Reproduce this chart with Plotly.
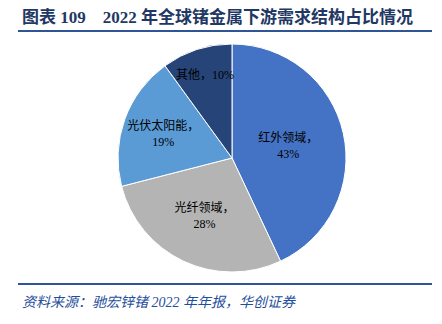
import plotly.graph_objects as go

W, H = 442, 324

categories = ["红外领域", "光纤领域", "光伏太阳能", "其他"]
values = [43, 28, 19, 10]
colors = ["#4472C4", "#B4B4B4", "#5B9BD5", "#264478"]
title_text = "图表 109 &nbsp;&nbsp;&nbsp;2022 年全球锗金属下游需求结构占比情况"
source_text = "资料来源：驰宏锌锗 2022 年年报，华创证券"

texts = []
for c, v in zip(categories, values):
    if c == "其他":
        texts.append(f"{c}，{v}%")
    else:
        texts.append(f"{c}，<br>{v}%")

cx, cy, r = 232, 158, 114

fig = go.Figure(go.Pie(
    labels=categories,
    values=values,
    text=texts,
    textinfo="text",
    textposition="inside",
    insidetextorientation="horizontal",
    sort=False,
    direction="clockwise",
    rotation=0,
    marker=dict(colors=colors, line=dict(color="white", width=1)),
    textfont=dict(family="Liberation Serif, Noto Sans CJK SC", size=12, color="black"),
    hoverinfo="label+percent",
    showlegend=False,
    domain=dict(x=[(cx - r) / W, (cx + r) / W], y=[1 - (cy + r) / H, 1 - (cy - r) / H]),
))

fig.update_layout(
    width=W, height=H,
    margin=dict(l=0, r=0, t=0, b=0),
    paper_bgcolor="white",
    plot_bgcolor="white",
    uniformtext=dict(minsize=12, mode="show"),
    annotations=[
        dict(text=title_text, x=20 / W, y=1 - 17 / H, xref="paper", yref="paper",
             xanchor="left", yanchor="middle", showarrow=False,
             font=dict(family="Liberation Serif, Noto Sans CJK SC", size=17, color="#1F3864", weight="bold")),
        dict(text=source_text, x=20 / W, y=1 - 302 / H, xref="paper", yref="paper",
             xanchor="left", yanchor="middle", showarrow=False,
             font=dict(family="Liberation Serif, Noto Sans CJK SC", size=14, color="#1F4E9A", style="italic")),
    ],
    shapes=[
        dict(type="line", xref="paper", yref="paper", x0=18 / W, x1=432 / W,
             y0=1 - 31 / H, y1=1 - 31 / H, line=dict(color="#2F5597", width=2)),
        dict(type="line", xref="paper", yref="paper", x0=18 / W, x1=432 / W,
             y0=1 - 284 / H, y1=1 - 284 / H, line=dict(color="#2F5597", width=2)),
    ],
)

fig.write_html("out.html")
